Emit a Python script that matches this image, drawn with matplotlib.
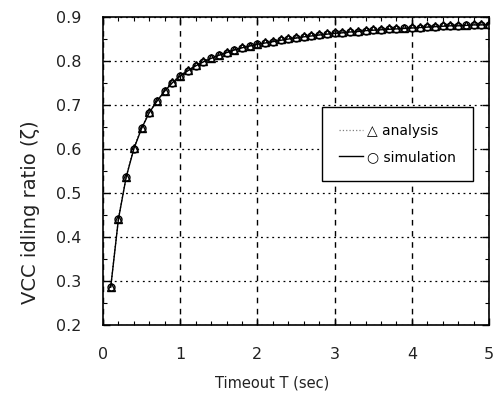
import matplotlib
matplotlib.use("Agg")
import matplotlib.pyplot as plt
from matplotlib.lines import Line2D
from matplotlib.ticker import MultipleLocator

# timeout values (sec)
timeout = [0.1, 0.2, 0.3, 0.4, 0.5, 0.6, 0.7, 0.8, 0.9, 1.0,
           1.1, 1.2, 1.3, 1.4, 1.5, 1.6, 1.7, 1.8, 1.9, 2.0,
           2.1, 2.2, 2.3, 2.4, 2.5, 2.6, 2.7, 2.8, 2.9, 3.0,
           3.1, 3.2, 3.3, 3.4, 3.5, 3.6, 3.7, 3.8, 3.9, 4.0,
           4.1, 4.2, 4.3, 4.4, 4.5, 4.6, 4.7, 4.8, 4.9, 5.0]

analysis = [0.287, 0.442, 0.537, 0.602, 0.648, 0.684, 0.710, 0.733, 0.752, 0.767,
            0.779, 0.790, 0.799, 0.807, 0.814, 0.820, 0.826, 0.831, 0.835, 0.839,
            0.843, 0.846, 0.849, 0.852, 0.854, 0.857, 0.859, 0.861, 0.863, 0.865,
            0.866, 0.868, 0.869, 0.871, 0.872, 0.873, 0.874, 0.875, 0.876, 0.877,
            0.878, 0.879, 0.880, 0.881, 0.882, 0.882, 0.883, 0.884, 0.884, 0.885]

simulation = [0.286, 0.441, 0.536, 0.601, 0.647, 0.683, 0.709, 0.732, 0.751, 0.766,
              0.778, 0.789, 0.798, 0.806, 0.813, 0.819, 0.825, 0.830, 0.834, 0.838,
              0.841, 0.844, 0.847, 0.850, 0.852, 0.855, 0.857, 0.859, 0.861, 0.863,
              0.864, 0.866, 0.867, 0.869, 0.870, 0.871, 0.872, 0.873, 0.874, 0.875,
              0.876, 0.877, 0.878, 0.879, 0.880, 0.880, 0.881, 0.882, 0.882, 0.883]

plt.rcParams['font.family'] = ['DejaVu Sans']
ink = '#222222'

fig = plt.figure(figsize=(4.94, 3.96), dpi=100)
ax = fig.add_axes([0.2085, 0.179, 0.7815, 0.778])

ax.plot(timeout, analysis, linestyle=':', color='black', linewidth=0.9,
        marker='^', markersize=6, markerfacecolor='none', markeredgecolor='black',
        markeredgewidth=1.0)
ax.plot(timeout, simulation, linestyle='-', color='black', linewidth=1.0,
        marker='o', markersize=5, markerfacecolor='none', markeredgecolor='black',
        markeredgewidth=1.0)

ax.set_xlim(0, 5)
ax.set_ylim(0.2, 0.9)
ax.xaxis.set_major_locator(MultipleLocator(1))
ax.xaxis.set_minor_locator(MultipleLocator(0.2))
ax.yaxis.set_major_locator(MultipleLocator(0.1))
ax.yaxis.set_minor_locator(MultipleLocator(0.05))
ax.tick_params(which='both', direction='in', top=True, right=True,
               labelsize=11.5, labelcolor=ink, pad=15.5)
ax.tick_params(which='major', length=5, width=1)
ax.tick_params(which='minor', length=3, width=0.8)

ax.xaxis.grid(True, linestyle=(0, (4, 4)), color='black', linewidth=1.0)
ax.yaxis.grid(True, linestyle=(0, (1.5, 3)), color='black', linewidth=0.9)

for s in ax.spines.values():
    s.set_linewidth(1.2)

ax.set_xlabel('Timeout T (sec)', fontsize=10.5, color=ink, va='top')
ax.xaxis.set_label_coords(0.438, -0.162)
ax.set_ylabel('VCC idling ratio (ζ)', fontsize=14, color=ink, va='center')
ax.yaxis.set_label_coords(-0.189, 0.365)

handles = [Line2D([], [], linestyle=':', color='gray', linewidth=0.9),
           Line2D([], [], linestyle='-', color='black', linewidth=1.0)]
leg = ax.legend(handles, ['△ analysis', '○ simulation'],
                loc='upper left', bbox_to_anchor=(0.567, 0.709),
                borderaxespad=0, fontsize=10, frameon=True, fancybox=False,
                framealpha=1, edgecolor='black', handlelength=1.7,
                handletextpad=0.3, borderpad=1.25, labelspacing=0.87)
leg.get_frame().set_linewidth(1.0)

fig.savefig('out.png', dpi=100)
